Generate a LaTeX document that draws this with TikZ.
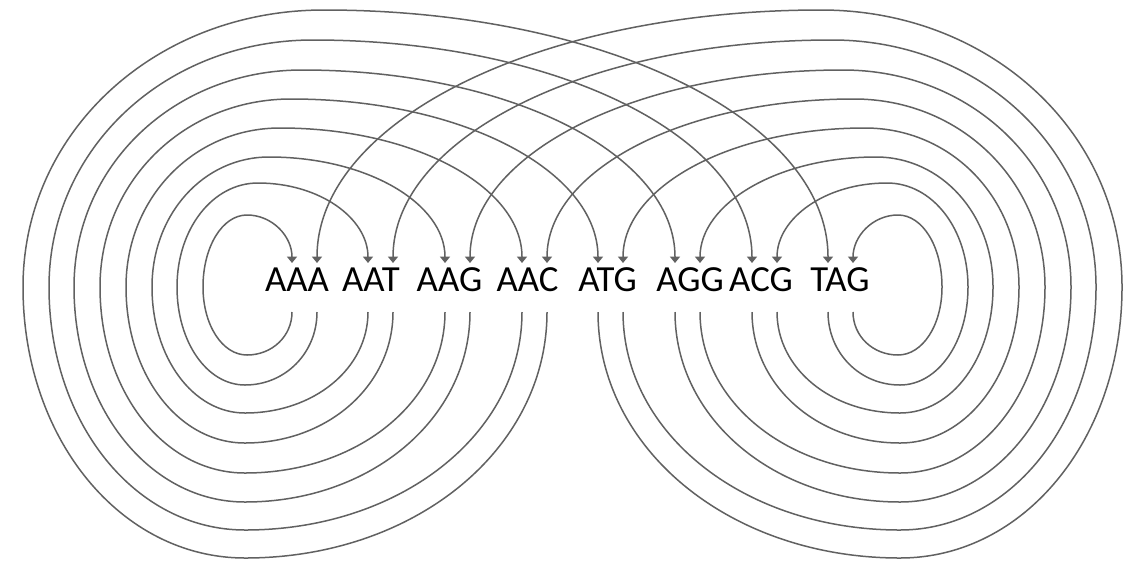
\documentclass[tikz,border=0pt]{standalone}
\usepackage{fontspec}
\setmainfont{Carlito}
\usetikzlibrary{arrows.meta}
\begin{document}
\begin{tikzpicture}[x=0.5pt,y=-0.5pt,
  link/.style={draw=black!62, line width=0.75pt, -{Triangle[width=5pt,length=3.2pt]}},
  lbl/.style={anchor=base, inner sep=0pt, font=\fontsize{18.4}{20}\selectfont}]
\useasboundingbox[fill=white] (0,0) rectangle (1138,563);
\def\cc{0.56}
\def\ym{287}
\def\yo{312}
\def\yi{263}
% triplet labels
\node[lbl] (AAA) at (297,291) {AAA};
\node[lbl] (AAT) at (371,291) {AAT};
\node[lbl] (AAG) at (449.5,291) {AAG};
\node[lbl] (AAC) at (527.5,291) {AAC};
\node[lbl] (ATG) at (607.5,291) {ATG};
\node[lbl] (AGG) at (690,291) {AGG};
\node[lbl] (ACG) at (761,291) {ACG};
\node[lbl] (TAG) at (840,291) {TAG};
% ports: i = arrow in (top), o = line out (bottom)
\foreach \x [count=\n] in {292,317,368,393,445,470,522,547,598,623,675,700,752,777,828,853}
  {\coordinate (i\n) at (\x,\yi); \coordinate (o\n) at (\x,\yo);}
% loops
\foreach \s/\t/\xs/\xt/\xl/\xb/\yb/\yt/\xp in {
  1/1/292/292/203/247/355/215/247,
  2/3/317/368/177/245/385/183/258,
  3/5/368/445/152/245/413/157/269,
  4/7/393/522/126/245/443/128/280,
  5/9/445/598/100/245/473/99/291,
  6/11/470/675/74/245/502/70/302,
  7/13/522/752/49/245/530/40/313,
  8/15/547/828/23/245/558/10/324,
  16/16/853/853/942/898/355/215/898,
  15/14/828/777/968/900/385/183/887,
  14/12/777/700/993/900/413/157/876,
  13/10/752/623/1019/900/443/128/865,
  12/8/700/547/1045/900/473/99/854,
  11/6/675/470/1071/900/502/70/843,
  10/4/623/393/1096/900/530/40/832,
  9/2/598/317/1122/900/558/10/821}
{\draw[link] (o\s)
  .. controls ({\xs},{\yo+\cc*(\yb-\yo)}) and ({\xb+\cc*(\xs-\xb)},{\yb}) .. (\xb,\yb)
  .. controls ({\xb-\cc*(\xb-\xl)},{\yb}) and ({\xl},{\ym+\cc*(\yb-\ym)}) .. (\xl,\ym)
  .. controls ({\xl},{\ym-\cc*(\ym-\yt)}) and ({\xp-\cc*(\xp-\xl)},{\yt}) .. (\xp,\yt)
  .. controls ({\xp+\cc*(\xt-\xp)},{\yt}) and ({\xt},{\yi-\cc*(\yi-\yt)}) .. (i\t);}
\end{tikzpicture}
\end{document}
